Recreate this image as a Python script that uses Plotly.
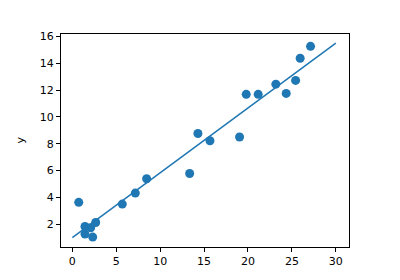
import plotly.graph_objects as go

x_pts = [0.73, 1.44, 1.44, 2.09, 2.32, 2.66, 5.69, 7.17, 8.46, 13.36, 14.3, 15.67,
         19.04, 19.8, 21.16, 23.17, 24.35, 25.42, 25.94, 27.12]
y_pts = [3.63, 1.83, 1.26, 1.73, 1.04, 2.13, 3.50, 4.32, 5.39, 5.78, 8.76, 8.22,
         8.50, 11.68, 11.68, 12.44, 11.75, 12.72, 14.37, 15.26]
line_x = [0, 30]
line_y = [1.0, 15.5]
x_ticks = [0, 5, 10, 15, 20, 25, 30]
y_ticks = [2, 4, 6, 8, 10, 12, 14, 16]

blue = "#1f77b4"
fig = go.Figure()
fig.add_trace(go.Scatter(x=x_pts, y=y_pts, mode="markers",
                         marker=dict(color=blue, size=9, line=dict(width=0))))
fig.add_trace(go.Scatter(x=line_x, y=line_y, mode="lines",
                         line=dict(color=blue, width=1.5)))

axis_common = dict(showline=True, mirror=True, linecolor="black", linewidth=1,
                   ticks="outside", ticklen=4, tickwidth=1, tickcolor="black",
                   showgrid=False, zeroline=False,
                   tickfont=dict(family="DejaVu Sans", size=11, color="black"))
fig.update_layout(
    width=400, height=280,
    margin=dict(l=61, r=51, t=34, b=31),
    paper_bgcolor="white", plot_bgcolor="white",
    showlegend=False,
    xaxis=dict(range=[-1.29, 31.5], tickvals=x_ticks, **axis_common),
    yaxis=dict(range=[0.30, 16.18], tickvals=y_ticks, **axis_common),
    annotations=[
        dict(text="x", xref="paper", yref="paper", x=0.5, y=-0.125,
             xanchor="center", yanchor="top", showarrow=False,
             font=dict(family="DejaVu Sans", size=11, color="black")),
        dict(text="y", xref="paper", yref="paper", x=-0.142, y=0.5,
             xanchor="center", yanchor="middle", showarrow=False, textangle=-90,
             font=dict(family="DejaVu Sans", size=11, color="black")),
    ],
)
fig.write_html("out.html")
